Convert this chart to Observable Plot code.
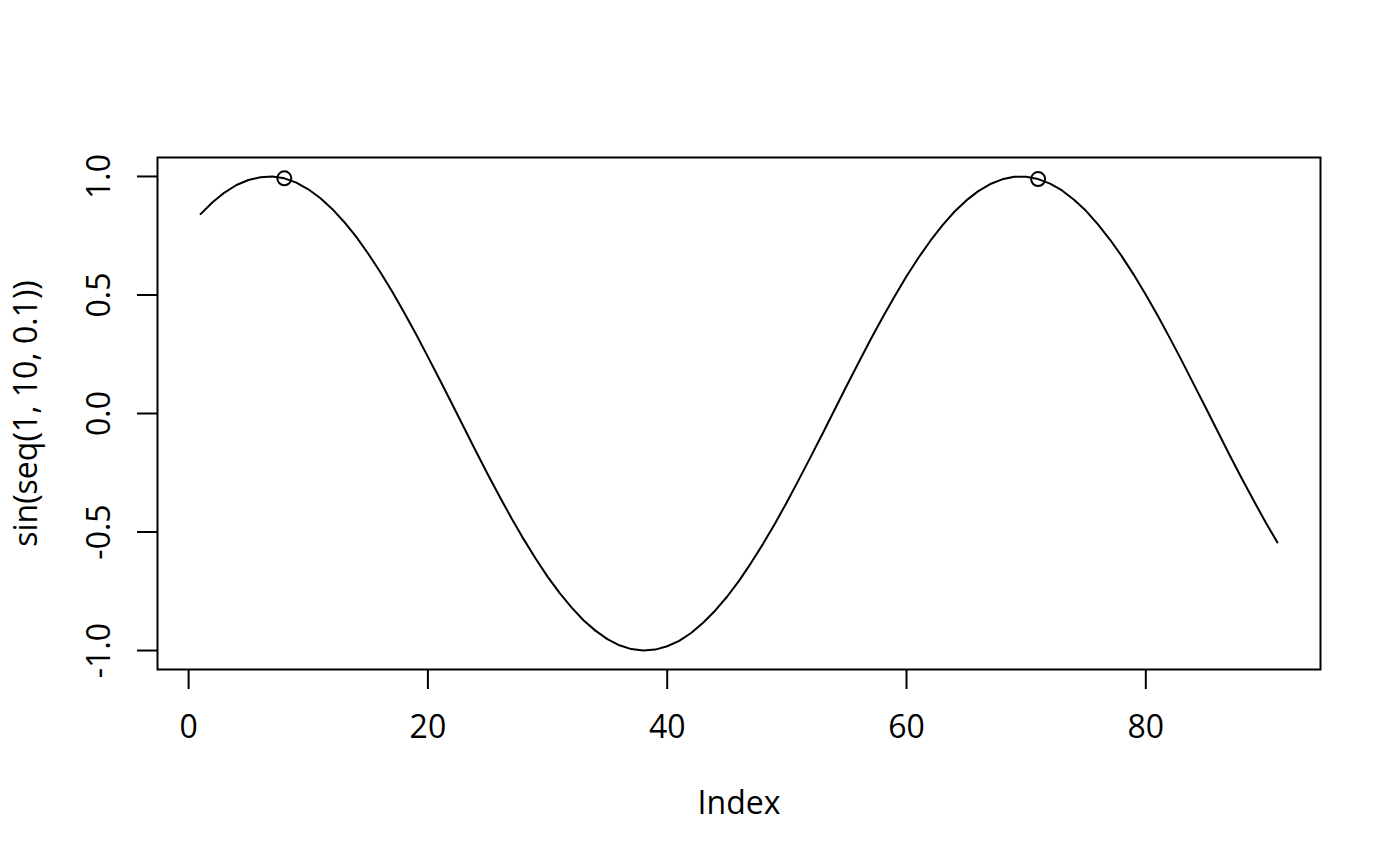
<!DOCTYPE html>
<html>
<head>
<meta charset="utf-8">
<script src="https://cdn.jsdelivr.net/npm/d3@7"></script>
<script src="https://cdn.jsdelivr.net/npm/@observablehq/plot@0.6"></script>
<style>
  html, body { margin: 0; padding: 0; background: #fff; }
</style>
</head>
<body>
<div id="chart"></div>
<script>
// sin(seq(1, 10, 0.1)) — 91 values
const values = [
  0.841, 0.891, 0.932, 0.964, 0.985, 0.997, 1.000, 0.992, 0.974, 0.946,
  0.909, 0.863, 0.808, 0.746, 0.675, 0.598, 0.516, 0.427, 0.335, 0.239,
  0.141, 0.042, -0.058, -0.158, -0.256, -0.351, -0.443, -0.530, -0.612, -0.688,
  -0.757, -0.818, -0.872, -0.916, -0.952, -0.978, -0.994, -1.000, -0.996, -0.982,
  -0.959, -0.926, -0.883, -0.832, -0.773, -0.706, -0.631, -0.551, -0.465, -0.374,
  -0.279, -0.182, -0.083, 0.017, 0.117, 0.215, 0.312, 0.405, 0.494, 0.579,
  0.657, 0.729, 0.794, 0.851, 0.899, 0.938, 0.968, 0.988, 0.999, 0.999,
  0.989, 0.970, 0.941, 0.902, 0.855, 0.798, 0.734, 0.663, 0.585, 0.501,
  0.412, 0.319, 0.223, 0.124, 0.025, -0.075, -0.175, -0.272, -0.366, -0.458,
  -0.544
];
const markedIndex = [8, 71];
const xTicks = [0, 20, 40, 60, 80];
const yTicks = [-1.0, -0.5, 0.0, 0.5, 1.0];
const xLabel = "Index";
const yLabel = "sin(seq(1, 10, 0.1))";

const series = values.map((v, i) => ({index: i + 1, value: v}));
const marked = markedIndex.map(i => ({index: i, value: values[i - 1]}));

const font = "'Open Sans', 'Noto Sans', sans-serif";
const fs = 32;

const chart = Plot.plot({
  width: 1400,
  height: 866,
  marginTop: 157,
  marginBottom: 197,
  marginLeft: 157,
  marginRight: 80,
  style: {fontFamily: font, fontSize: fs + "px", color: "black", background: "white", overflow: "visible"},
  x: {domain: [-2.6, 94.6]},
  y: {domain: [-1.08, 1.08]},
  marks: [
    Plot.axisX(xTicks, {anchor: "bottom", tickSize: 20, strokeWidth: 2, tickFormat: () => "", label: null}),
    Plot.axisY(yTicks, {anchor: "left", tickSize: 20, strokeWidth: 2, tickFormat: () => "", label: null}),
    Plot.text(xTicks, {x: d => d, text: d => String(d), frameAnchor: "bottom", dy: 58, lineAnchor: "middle", fontSize: fs, fill: "black"}),
    Plot.text(yTicks, {y: d => d, text: d => d.toFixed(1), frameAnchor: "left", dx: -57.5, rotate: -90, lineAnchor: "middle", textAnchor: "middle", fontSize: fs, fill: "black"}),
    Plot.text([xLabel], {text: d => d, frameAnchor: "bottom", dy: 134.5, lineAnchor: "middle", fontSize: fs, fill: "black"}),
    Plot.text([yLabel], {text: d => d, frameAnchor: "left", dx: -131, rotate: -90, lineAnchor: "middle", textAnchor: "middle", fontSize: fs, fill: "black"}),
    Plot.line(series, {x: "index", y: "value", stroke: "black", strokeWidth: 2}),
    Plot.dot(marked, {x: "index", y: "value", r: 7, stroke: "black", fill: "none", strokeWidth: 2}),
    Plot.frame({stroke: "black", strokeWidth: 2})
  ]
});
document.getElementById("chart").appendChild(chart);
</script>
</body>
</html>
